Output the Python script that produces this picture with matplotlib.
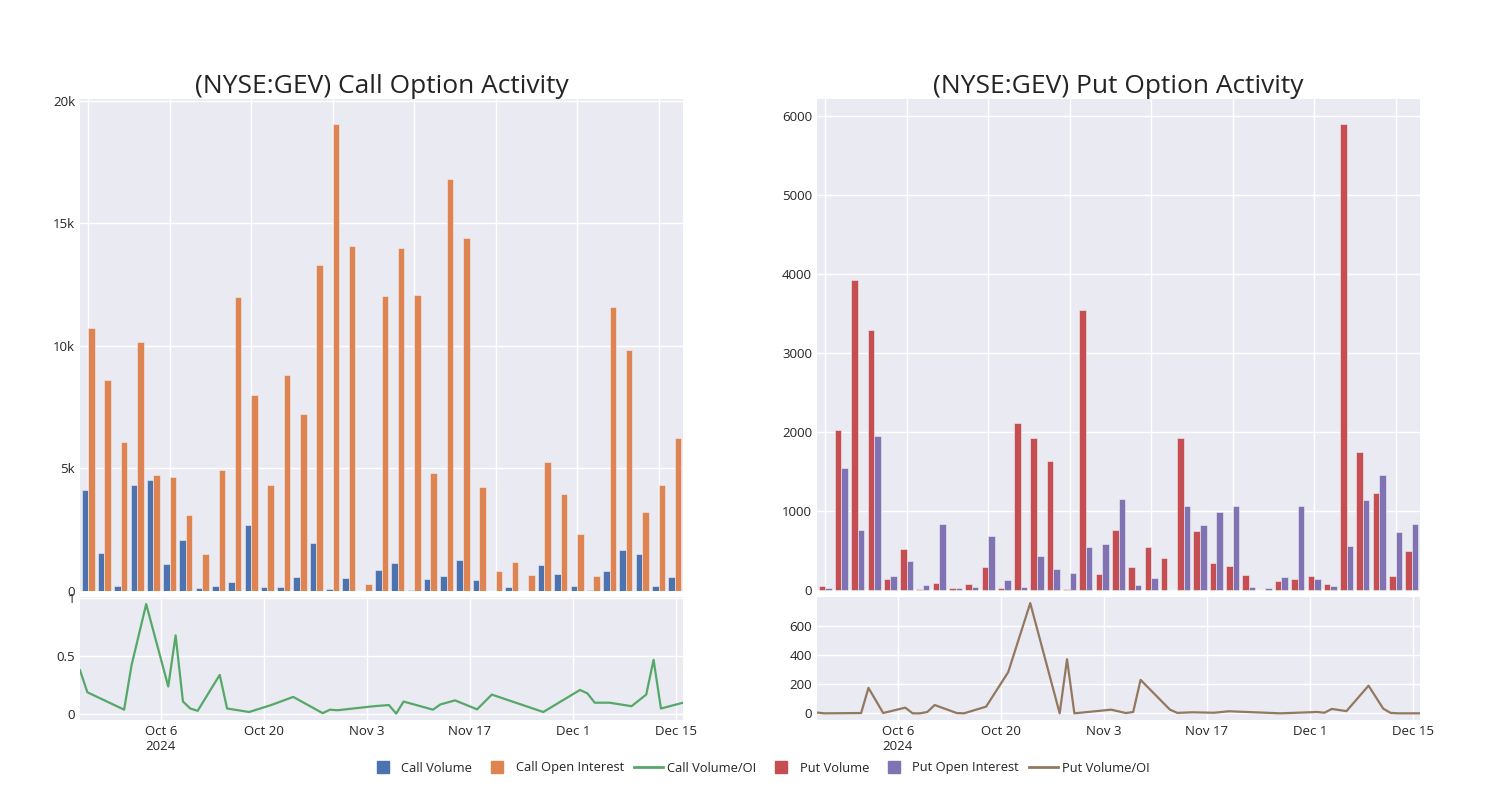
import numpy as np
import pandas as pd
import matplotlib
matplotlib.use("Agg")
import matplotlib.pyplot as plt
from matplotlib.lines import Line2D

plt.rcParams['font.family'] = ['Open Sans', 'DejaVu Sans']

# dates of the trading sessions (shared by both panels)
dates = ["2024-09-25", "2024-09-26", "2024-10-01", "2024-10-02", "2024-10-04",
         "2024-10-07", "2024-10-08", "2024-10-09", "2024-10-10", "2024-10-11",
         "2024-10-14", "2024-10-15", "2024-10-18", "2024-10-21", "2024-10-24",
         "2024-10-28", "2024-10-29", "2024-10-30", "2024-11-04", "2024-11-06",
         "2024-11-07", "2024-11-08", "2024-11-12", "2024-11-13", "2024-11-15",
         "2024-11-18", "2024-11-20", "2024-11-27", "2024-12-02", "2024-12-03",
         "2024-12-04", "2024-12-06", "2024-12-09", "2024-12-11", "2024-12-12",
         "2024-12-13", "2024-12-16"]

call_volume = [4117, 1568, 218, 4335, 4512, 1090, 2099, 123, 204, 368,
               2699, 177, 150, 572, 1963, 95, 518, 10, 845, 1131,
               55, 491, 613, 1254, 463, 5, 164, 0, 1077, 695,
               191, 41, 804, 1677, 1513, 191, 586]
call_oi = [10728, 8601, 6066, 10155, 4730, 4648, 3094, 1513, 4935, 12009,
           8001, 4321, 8819, 7211, 13291, 19043, 14081, 273, 12036, 14013,
           12077, 4812, 16808, 14422, 4226, 832, 1186, 668, 5262, 3953,
           2318, 613, 11600, 9828, 3244, 4335, 6257]
call_ratio = [0.38, 0.19, 0.04, 0.42, 0.95, 0.24, 0.68, 0.11, 0.05, 0.03,
              0.34, 0.05, 0.02, 0.08, 0.15, 0.01, 0.04, 0.035, 0.07, 0.08,
              0.006, 0.11, 0.04, 0.085, 0.12, 0.043, 0.17, 0.02, 0.21, 0.18,
              0.10, 0.10, 0.07, 0.17, 0.47, 0.05, 0.10]

put_volume = [55, 2021, 3924, 3283, 143, 515, 8, 89, 21, 80,
              287, 21, 2110, 1916, 1633, 8, 3540, 203, 760, 287,
              549, 409, 1928, 743, 338, 308, 194, 4, 118, 139,
              173, 80, 5890, 1747, 1224, 181, 489]
put_oi = [21, 1540, 764, 1945, 177, 367, 63, 831, 30, 42,
          679, 131, 38, 435, 266, 211, 544, 582, 1148, 68,
          148, 0, 1063, 819, 987, 1068, 38, 21, 169, 1063,
          135, 46, 557, 1139, 1451, 734, 840]
put_ratio = [5, 0, 2, 175, 2, 39, 0, 0, 9, 57,
             2, 0, 46, 283, 758, 0, 372, 0, 25, 2,
             9, 230, 25, 3, 7, 4, 14, 0, 9, 4,
             30, 15, 190, 32, 3, 0, 0]

tick_dates = ["2024-10-06", "2024-10-20", "2024-11-03", "2024-11-17", "2024-12-01", "2024-12-15"]
tick_labels = ["Oct 6\n2024", "Oct 20", "Nov 3", "Nov 17", "Dec 1", "Dec 15"]

BG = "#EAEAF2"
TXT = "#242424"
dts = pd.to_datetime(dates)
ticks = pd.to_datetime(tick_dates)
idx = np.arange(len(dates))

fig = plt.figure(figsize=(15, 8), dpi=100)


def style(ax):
    ax.set_facecolor(BG)
    for s in ax.spines.values():
        s.set_visible(False)
    ax.grid(True, color="white", linewidth=1)
    ax.set_axisbelow(True)
    ax.tick_params(length=0, labelsize=9.5, labelcolor=TXT)


def panel(left, title, vol, oi, ratio, c_vol, c_oi, c_line, ymax_top, ytop, ylabels, ylow, ylowlabels, ylim_low):
    w = 603 / 1500
    top = fig.add_axes([left, 1 - 591 / 800, w, 492 / 800])
    style(top)
    top.bar(idx - 0.2, vol, width=0.4, color=c_vol, edgecolor="#f0f0f0", linewidth=0.4)
    top.bar(idx + 0.2, oi, width=0.4, color=c_oi, edgecolor="#f0f0f0", linewidth=0.4)
    top.set_xlim(-0.5, len(idx) - 0.5)
    top.set_ylim(ymax_top[0], ymax_top[1])
    top.set_xticks(np.arange(0, len(idx), 5))
    top.set_xticklabels([])
    top.set_yticks(ytop)
    top.set_yticklabels(ylabels)
    top.set_title(title, fontsize=19, color=TXT, pad=3)

    low = fig.add_axes([left, 1 - 720 / 800, w, 123 / 800])
    style(low)
    low.plot(dts, ratio, color=c_line, linewidth=1.6)
    low.set_xlim(dts[0], dts[-1])
    low.set_ylim(*ylim_low)
    low.set_xticks(ticks)
    low.set_xticklabels(tick_labels)
    low.set_yticks(ylow)
    low.set_yticklabels(ylowlabels)
    return top, low


panel(80 / 1500, "(NYSE:GEV) Call Option Activity", call_volume, call_oi, call_ratio,
      "#4C72B0", "#DD8452", "#55A868", (0, 20080),
      [0, 5000, 10000, 15000, 20000], ["0", "5k", "10k", "15k", "20k"],
      [0, 0.5, 1], ["0", "0.5", "1"], (-0.049, 1.011))

panel(817 / 1500, "(NYSE:GEV) Put Option Activity", put_volume, put_oi, put_ratio,
      "#C44E52", "#8172B3", "#937860", (-13, 6210),
      [0, 1000, 2000, 3000, 4000, 5000, 6000],
      ["0", "1000", "2000", "3000", "4000", "5000", "6000"],
      [0, 200, 400, 600], ["0", "200", "400", "600"], (-46, 800))

handles = [
    Line2D([], [], marker="s", linestyle="none", color="#4C72B0", markersize=9),
    Line2D([], [], marker="s", linestyle="none", color="#DD8452", markersize=9),
    Line2D([], [], color="#55A868", linewidth=2),
    Line2D([], [], marker="s", linestyle="none", color="#C44E52", markersize=9),
    Line2D([], [], marker="s", linestyle="none", color="#8172B3", markersize=9),
    Line2D([], [], color="#937860", linewidth=2),
]
labels = ["Call Volume", "Call Open Interest", "Call Volume/OI",
          "Put Volume", "Put Open Interest", "Put Volume/OI"]
fig.legend(handles, labels, loc="center", bbox_to_anchor=(0.506, 1 - 768 / 800), ncol=6,
           frameon=False, fontsize=9.3, handlelength=2.3, handletextpad=0.3,
           columnspacing=0.75, labelcolor=TXT)

fig.savefig("out.png", dpi=100)
